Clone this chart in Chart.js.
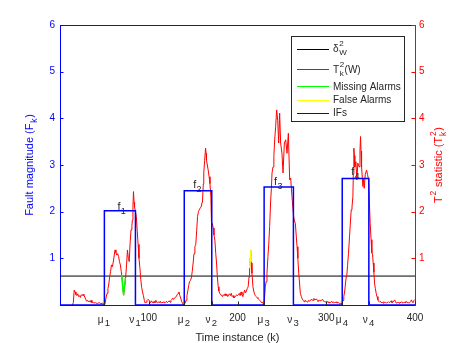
<!DOCTYPE html>
<html><head><meta charset="utf-8">
<script src="https://cdn.jsdelivr.net/npm/chart.js@4"></script>
<style>html,body{margin:0;padding:0;background:#fff}canvas{display:block}</style>
</head><body>
<canvas id="c" width="458" height="343"></canvas>
<script>
const FONT = '"Liberation Sans", Arial, Helvetica, sans-serif';

// T^2_k(W) statistic [k, value]
const t2Series = [
[14,0],[15,0.05],[16,0.32],[17,0.28],[18,0.22],[19,0.2],[20,0.24],[21,0.18],[22,0.2],[23,0.16],[24,0.22],[25,0.2],[26,0.23],[27,0.2],[28,0.17],[29,0.12],[30,0.08],[31,0.1],[32,0.07],[33,0.09],[34,0.06],[35,0.1],[36,0.05],[37,0.06],[38,0.04],[40,0.05],[42,0.03],[44,0.05],[46,0.03],[48,0.04],[49,0.02],[50,0.01],
[51,0.05],[52,0.17],[53,0.25],[54,0.35],[55,0.45],[56,0.61],[57,0.72],[58,0.86],[59,0.82],[60,0.92],[61,1.05],[62,1.18],[63,1.12],[64,1.07],[65,1.1],[66,1.04],[67,0.93],[68,0.86],[69,0.72],[70,0.55],[71,0.32],[71.5,0.21],[72,0.26],[73,0.43],[74,0.6],[75,0.86],[76,1.18],[77,1.0],[78,0.93],[79,1.33],[80,1.61],[81,1.7],[81.6,1.82],[82.2,2.1],[82.8,2.43],[83.5,2.2],[84,2.1],[85,2.0],[86,1.9],[87,1.6],[88,1.3],[89,1.0],[90,0.8],[91,0.55],[92,0.38],[93,0.28],[94,0.2],[95,0.1],[96,0.04],[97,0.06],[98,0.1],[99,0.12],[100,0.11],
[101,0.08],[102,0.05],[103,0.09],[104,0.06],[105,0.04],[106,0.08],[107,0.05],[108,0.1],[109,0.06],[110,0.04],[111,0.07],[112,0.05],[113,0.08],[114,0.04],[115,0.06],[116,0.05],[117,0.07],[118,0.04],[119,0.06],[120,0.08],[121,0.05],[122,0.07],[123,0.09],[124,0.06],[125,0.1],[126,0.12],[127,0.15],[128,0.12],[129,0.14],[130,0.17],[131,0.18],[132,0.22],[133,0.25],[134,0.28],[135,0.2],[136,0.15],[137,0.08],[138,0.04],[139,0.01],[140,0.02],
[141,0.04],[142,0.1],[143,0.2],[144,0.3],[145,0.42],[146,0.5],[147,0.53],[148,0.58],[149,0.72],[150,0.9],[151,1.1],[152,1.25],[153,1.3],[154,1.6],[155,1.9],[156,2.0],[157,2.04],[158,2.08],[159,2.1],[160,2.2],[160.6,2.25],[161.5,2.6],[162,2.83],[163,3.1],[164,3.36],[164.6,3.25],[165.1,3.1],[166,3.0],[167,2.89],[168,2.75],[169,2.6],[170,2.3],[170.8,1.68],[171.5,1.75],[172.7,1.65],[173.5,1.5],[174.5,1.39],[175.5,1.1],[176.4,0.9],[177.3,0.6],[178.3,0.39],[179,0.3],[180,0.25],[181,0.22],[182,0.21],[183,0.18],[184,0.22],[185,0.2],[186,0.24],[187,0.2],[188,0.23],[189,0.18],[190,0.22],[191,0.24],[192,0.2],[193,0.25],[194,0.18],[195,0.2],[196,0.15],[197,0.17],[198,0.19],[199,0.22],[200,0.2],
[201,0.22],[202,0.25],[203,0.2],[204,0.28],[205,0.22],[206,0.18],[207,0.25],[208,0.32],[209,0.26],[210,0.3],[211,0.35],[212,0.39],[213,0.6],[213.6,0.75],[214.3,1.0],[214.8,1.18],[215.5,0.9],[216.3,0.68],[217.4,0.39],[218.3,0.3],[219.3,0.23],[220,0.2],[221.2,0.18],[222,0.16],[223,0.14],[224,0.12],[225,0.1],[226,0.08],[227,0.05],[228,0.06],[229,0.03],[229.8,0.01],
[230.5,0.15],[231.3,0.39],[232.3,0.5],[233.2,0.68],[234.3,1.04],[235.2,1.3],[236.2,1.68],[237.4,2.25],[238.2,2.5],[238.9,2.83],[240,2.96],[241,3.2],[241.9,3.54],[243,3.82],[244.1,4.18],[245.3,3.96],[246.4,3.47],[247.5,4.11],[248.6,3.47],[250.1,3.25],[251.3,2.83],[252.8,3.47],[254.3,3.54],[255.8,3.25],[257.3,3.68],[258.8,2.68],[259.9,2.72],[261.4,2.32],[262.3,2.1],[263.3,1.89],[264.2,1.8],[265.2,1.75],[266.1,1.5],[267.1,1.25],[268,1.0],[269,0.68],[270,0.45],[270.8,0.25],[272,0.18],[272.7,0.14],[274,0.1],[275,0.07],[276,0.1],[277.6,0.08],[279,0.06],[280,0.1],[281.4,0.08],[283,0.12],[285.1,0.1],[286,0.14],[287,0.11],[288.9,0.13],[290,0.1],[290.8,0.07],[292,0.11],[293,0.09],[294.5,0.1],[296,0.12],[297,0.08],[298.3,0.07],[300,0.06],
[301,0.08],[302,0.05],[303,0.07],[304,0.04],[305,0.06],[306,0.08],[307,0.05],[308,0.07],[309,0.04],[310,0.06],[311,0.05],[312,0.07],[313,0.04],[314,0.05],[315,0.03],[316,0.04],[317,0.02],[318,0.05],[319,0.1],[319.8,0.18],[320.8,0.3],[321.7,0.47],[322.5,0.6],[323.2,0.64],[324,0.85],[325.1,1.11],[326.2,1.46],[327,1.7],[328.1,2.04],[329,2.1],[330,2.32],[330.5,2.8],[331.1,3.36],[331.7,3.2],[332.2,2.96],[333.4,3.07],[334.5,2.68],[335.6,3.04],[336.3,3.0],[337.1,2.96],[338,3.3],[338.6,3.61],[339.2,3.3],[339.8,2.96],[341.3,2.54],[342.1,2.7],[342.8,2.5],[343.9,2.79],[345.4,2.89],[346.5,2.8],[347.7,2.68],[348.6,2.2],[349.5,1.75],[350.5,1.4],[351.4,1.11],[352.1,1.1],[352.9,0.9],[353.7,0.7],[354.4,0.47],[355.3,0.35],[356.3,0.25],[357.2,0.18],[358.2,0.11],[359,0.08],[360,0.06],
[361,0.08],[362,0.05],[363,0.06],[364,0.04],[365,0.07],[366,0.05],[367,0.06],[368,0.04],[369,0.05],[370,0.07],[371,0.05],[372,0.06],[373.2,0.09],[374,0.05],[375,0.06],[376,0.08],[377,0.11],[378,0.07],[378.9,0.04],[380,0.05],[381,0.06],[382,0.04],[383,0.06],[384,0.05],[385,0.07],[386,0.04],[387,0.05],[388,0.06],[389,0.04],[390,0.08],[391,0.05],[392,0.06],[393,0.04],[394,0.05],[395,0.07],[396,0.11],[397,0.06],[398,0.05],[399,0.1],[400,0.12]
];
const threshold = 0.62;                       // delta^2_W
const missingAlarms = [[69.5,0.64],[70,0.55],[71,0.32],[71.5,0.21],[72,0.26],[73,0.43],[73.7,0.58]];
const falseAlarms = [[213.7,0.79],[214.3,1.0],[214.8,1.18],[215.4,0.93]];
const faultStart = [50,140,230,318];
const faultEnd = [85,171,263,348];
const faultMag = [2.02,2.45,2.53,2.71];
const fLabelK = [64.7,150.1,241.2,328.1];
const fLabelV = [2.04,2.5,2.57,2.79];
const fLabelSub = ['1','2','3','4'];

const xTickVals = [50,85,100,140,171,200,230,263,300,318,348,400];
const xTickMain = ['μ','ν','100','μ','ν','200','μ','ν','300','μ','ν','400'];
const xTickSub  = ['1','1','','2','2','','3','3','','4','4',''];
const yTickVals = [1,2,3,4,5,6];

const legendItems = [
  {color:'#000000', parts:[{t:'δ'},{sup:'2',sub:'W'}]},
  {color:'#ff0000', parts:[{t:'T'},{sup:'2',sub:'k'},{t:'(W)'}]},
  {color:'#00ff00', parts:[{t:'Missing Alarms'}]},
  {color:'#ffff00', parts:[{t:'False Alarms'}]},
  {color:'#0000ff', parts:[{t:'IFs'}]}
];

// step data for IFs
const ifData = [{x:0,y:0}];
faultStart.forEach((s,i)=>{
  ifData.push({x:s,y:0},{x:s,y:faultMag[i]},{x:faultEnd[i],y:faultMag[i]},{x:faultEnd[i],y:0});
});
ifData.push({x:400,y:0});
const pts = arr => arr.map(p=>({x:p[0],y:p[1]}));

function rich(ctx, parts, x, y, opt) {
  const size = opt.size, ss = opt.scriptSize || size*0.78;
  const mainF = size+'px '+FONT, scrF = ss+'px '+FONT;
  const widths = []; let w = 0;
  for (const p of parts) {
    let pw;
    if (p.t !== undefined) { ctx.font = mainF; pw = ctx.measureText(p.t).width; }
    else { ctx.font = scrF; pw = Math.max(p.sup?ctx.measureText(p.sup).width:0, p.sub?ctx.measureText(p.sub).width:0) + (opt.gap ?? 1); }
    widths.push(pw); w += pw;
  }
  ctx.save();
  ctx.translate(x, y);
  if (opt.rotate) ctx.rotate(opt.rotate);
  ctx.fillStyle = opt.color;
  ctx.textBaseline = 'alphabetic';
  ctx.textAlign = 'left';
  let cx = opt.align === 'center' ? -w/2 : (opt.align === 'right' ? -w : 0);
  const supDy = opt.supDy ?? -size*0.5, subDy = opt.subDy ?? size*0.3;
  parts.forEach((p,i)=>{
    if (p.t !== undefined) { ctx.font = mainF; ctx.fillText(p.t, cx, 0); }
    else {
      ctx.font = scrF;
      if (p.sup) ctx.fillText(p.sup, cx+(opt.gap??1)*0.6, supDy);
      if (p.sub) ctx.fillText(p.sub, cx+(opt.gap??1)*0.6, subDy);
    }
    cx += widths[i];
  });
  ctx.restore();
}

const deco = {
  id:'deco',
  afterDraw(chart) {
    const ctx = chart.ctx, a = chart.chartArea;
    const xs = chart.scales.x, yl = chart.scales.yL, yr = chart.scales.yR;
    ctx.save();
    // top box line
    ctx.strokeStyle = '#262626'; ctx.lineWidth = 1;
    ctx.beginPath(); ctx.moveTo(a.left, Math.round(a.top)+0.5); ctx.lineTo(a.right, Math.round(a.top)+0.5); ctx.stroke();
    // inward ticks
    const TL = 3.5;
    ctx.strokeStyle = '#0000ff';
    yTickVals.forEach(v=>{ const y = Math.round(yl.getPixelForValue(v))+0.5;
      ctx.beginPath(); ctx.moveTo(a.left, y); ctx.lineTo(a.left+TL, y); ctx.stroke(); });
    ctx.strokeStyle = '#ff0000';
    yTickVals.forEach(v=>{ const y = Math.round(yr.getPixelForValue(v))+0.5;
      ctx.beginPath(); ctx.moveTo(a.right, y); ctx.lineTo(a.right-TL, y); ctx.stroke(); });
    ctx.strokeStyle = '#262626';
    xTickVals.forEach(v=>{ const x = Math.round(xs.getPixelForValue(v))+0.5;
      ctx.beginPath(); ctx.moveTo(x, a.bottom); ctx.lineTo(x, a.bottom-TL); ctx.stroke(); });
    // y tick labels
    ctx.font = '10px '+FONT; ctx.textBaseline = 'middle';
    ctx.fillStyle = '#0000ff'; ctx.textAlign = 'right';
    yTickVals.forEach(v=> ctx.fillText(String(v), a.left-5, yl.getPixelForValue(v)));
    ctx.fillStyle = '#ff0000'; ctx.textAlign = 'left';
    yTickVals.forEach(v=> ctx.fillText(String(v), a.right+4, yr.getPixelForValue(v)));
    // x tick labels
    xTickVals.forEach((v,i)=>{
      const x = xs.getPixelForValue(v);
      if (xTickSub[i]) {
        rich(ctx, [{t:xTickMain[i]},{sub:xTickSub[i]}], x, a.bottom+17.5,
             {size:10, scriptSize:9.5, color:'#262626', align:'center', subDy:3, gap:2});
      } else {
        rich(ctx, [{t:xTickMain[i]}], x, a.bottom+15.5, {size:10, color:'#262626', align:'center'});
      }
    });
    // axis titles
    rich(ctx, [{t:'Time instance (k)'}], (a.left+a.right)/2, a.bottom+36, {size:11, color:'#262626', align:'center'});
    ctx.save(); ctx.translate(33, (a.top+a.bottom)/2);
    rich(ctx, [{t:'Fault magnitude (F'},{sub:'k'},{t:')'}], 0, 0, {size:11, scriptSize:8.5, color:'#0000ff', align:'center', rotate:-Math.PI/2, subDy:3.5, gap:1.5});
    ctx.restore();
    ctx.save(); ctx.translate(437.5, (a.top+a.bottom)/2);
    ctx.rotate(-Math.PI/2);
    rich(ctx, [{t:'T'},{sup:'2'},{t:' statistic (T'},{sup:'2',sub:'k'},{t:')'}], 0, 4.5, {size:11, scriptSize:8.5, color:'#ff0000', align:'center', supDy:-6, subDy:3.5, gap:1.5});
    ctx.restore();
    // f labels
    fLabelK.forEach((k,i)=>{
      rich(ctx, [{t:'f'},{sub:fLabelSub[i]}], xs.getPixelForValue(k), yl.getPixelForValue(fLabelV[i]),
           {size:11, scriptSize:9, color:'#262626', align:'left', subDy:4, gap:0.5});
    });
    // legend
    const L = {x0:291, y0:36, x1:404, y1:121};
    ctx.fillStyle = '#ffffff'; ctx.fillRect(L.x0, L.y0, L.x1-L.x0, L.y1-L.y0);
    ctx.strokeStyle = '#262626'; ctx.lineWidth = 1;
    ctx.strokeRect(L.x0+0.5, L.y0+0.5, L.x1-L.x0, L.y1-L.y0);
    const rowY = [48.5, 69, 86, 99.5, 112.5];
    legendItems.forEach((it,i)=>{
      const y = rowY[i];
      ctx.strokeStyle = it.color; ctx.lineWidth = 1;
      ctx.beginPath(); ctx.moveTo(297, Math.round(y)+0.5); ctx.lineTo(329, Math.round(y)+0.5); ctx.stroke();
      rich(ctx, it.parts, 333, y+3.6, {size:10, scriptSize:8, color:'#262626', align:'left', supDy:-6, subDy:3, gap:1});
    });
    ctx.restore();
  }
};

new Chart(document.getElementById('c'), {
  type:'scatter',
  data:{ datasets:[
    {label:'IFs', data:ifData, yAxisID:'yL', showLine:true, borderColor:'#0000ff', borderWidth:1.5, pointRadius:0, order:0, clip:false},
    {label:'False Alarms', data:pts(falseAlarms), yAxisID:'yR', showLine:true, borderColor:'#ffff00', borderWidth:1.5, pointRadius:0, order:1},
    {label:'Missing Alarms', data:pts(missingAlarms), yAxisID:'yR', showLine:true, borderColor:'#00ff00', borderWidth:1.5, pointRadius:0, order:2},
    {label:'T2', data:pts(t2Series), yAxisID:'yR', showLine:true, borderColor:'#ff0000', borderWidth:1, pointRadius:0, order:3},
    {label:'delta', data:[{x:0,y:threshold},{x:400,y:threshold}], yAxisID:'yR', showLine:true, borderColor:'#000000', borderWidth:1, pointRadius:0, order:4}
  ]},
  options:{
    responsive:false, animation:false, devicePixelRatio:1,
    layout:{ padding:{left:60, right:43, top:25, bottom:38}, autoPadding:false },
    plugins:{ legend:{display:false}, tooltip:{enabled:false} },
    scales:{
      x:{ type:'linear', position:'bottom', min:0, max:400,
          afterBuildTicks: s => { s.ticks = xTickVals.map(v=>({value:v})); },
          ticks:{display:false}, grid:{display:false, drawTicks:false, tickLength:0},
          border:{display:true, color:'#262626', width:1} },
      yL:{ type:'linear', position:'left', min:0, max:6, ticks:{display:false, stepSize:1},
           grid:{display:false, drawTicks:false, tickLength:0}, border:{display:true, color:'#0000ff', width:1} },
      yR:{ type:'linear', position:'right', min:0, max:6, ticks:{display:false, stepSize:1},
           grid:{display:false, drawTicks:false, tickLength:0}, border:{display:true, color:'#ff0000', width:1} }
    }
  },
  plugins:[deco]
});
</script>
</body></html>
